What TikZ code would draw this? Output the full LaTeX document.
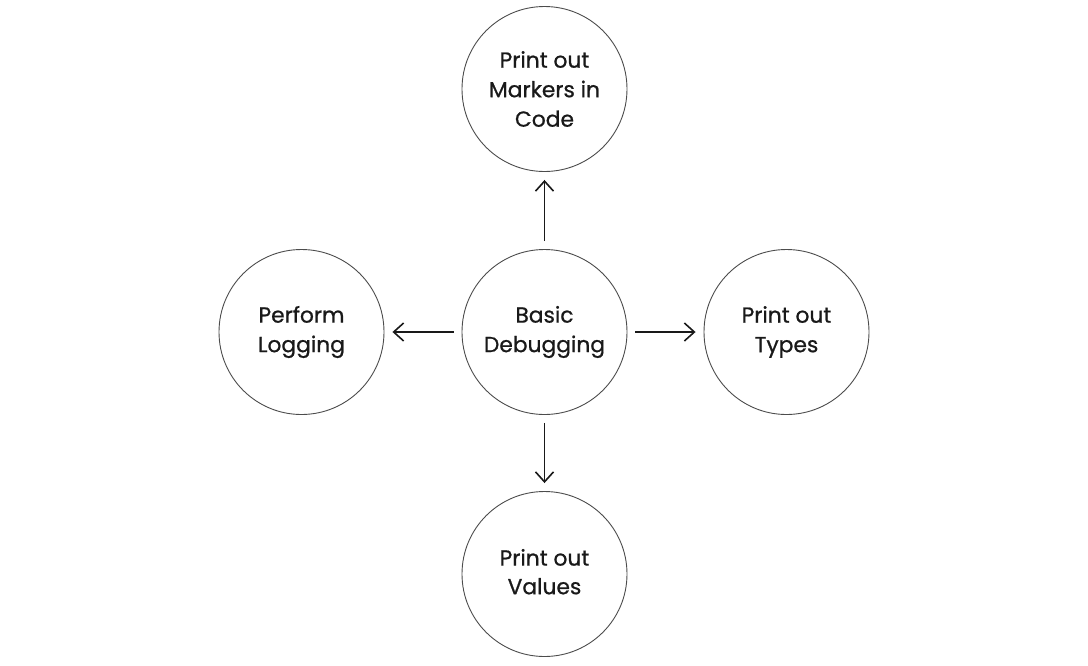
\documentclass[tikz,border=0pt]{standalone}
\usepackage{fontspec}
\setmainfont{Poppins}[FakeBold=0.8]
\usetikzlibrary{arrows.meta}
\begin{document}
\begin{tikzpicture}[x=1pt,y=-1pt,
  bubble/.style={circle,draw=black!70,line width=0.9pt,minimum size=165pt,inner sep=0pt,
    align=center,text=black!90,font=\fontsize{21.8}{29.5}\selectfont},
  link/.style={line width=1.6pt,draw=black!90,-{Straight Barb[length=10pt,width=18pt,line width=1.6pt]},shorten <=8pt,shorten >=8pt}]
\useasboundingbox (0,0) rectangle (1088,665);
\node[bubble] (c) at (544.5,332) {Basic\\Debugging};
\node[bubble] (t) at (544.5,89) {Print out\\Markers in\\Code};
\node[bubble] (l) at (301.5,332) {Perform\\Logging};
\node[bubble] (r) at (786.5,332) {Print out\\Types};
\node[bubble] (b) at (544.5,574) {\raisebox{4pt}{\begin{tabular}{@{}c@{}}Print out\\[-0.9pt]Values\end{tabular}}};
\draw[link] (c) -- (t);
\draw[link] (c) -- (l);
\draw[link] (c) -- (r);
\draw[link] (c) -- (b);
\end{tikzpicture}
\end{document}
